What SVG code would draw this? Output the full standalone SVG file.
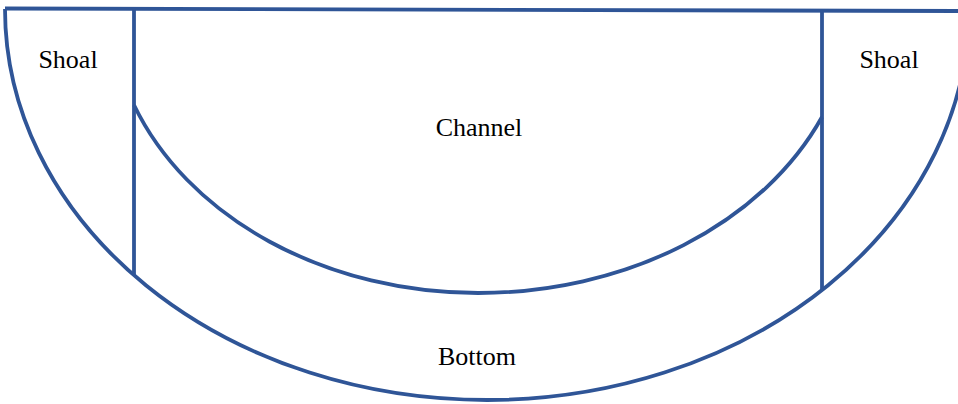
<svg xmlns="http://www.w3.org/2000/svg" width="958" height="404" viewBox="0 0 958 404">
<style>
.ln{fill:none;stroke:#2F5597;stroke-width:3.8;stroke-linejoin:round}
.lb{font-family:"Liberation Serif","Times New Roman",serif;font-size:26px;fill:#000;text-anchor:middle}
</style>
<rect width="958" height="404" fill="#fff"/>
<g id="connectors">
<path class="ln" d="M5,8.5 L958,11"/>
<path class="ln" d="M5,9 A482,391 0 0 0 969,9"/>
<path class="ln" d="M134,9 L134,275"/>
<path class="ln" d="M822,11 L822,291"/>
<path class="ln" d="M134,105 A368.5,293 0 0 0 478,293 A375,293 0 0 0 822,117"/>
</g>
<g id="shoal-left"><text class="lb" x="68" y="68">Shoal</text></g>
<g id="shoal-right"><text class="lb" x="889" y="68">Shoal</text></g>
<g id="channel"><text class="lb" x="479" y="136">Channel</text></g>
<g id="bottom"><text class="lb" x="477" y="365">Bottom</text></g>
</svg>
